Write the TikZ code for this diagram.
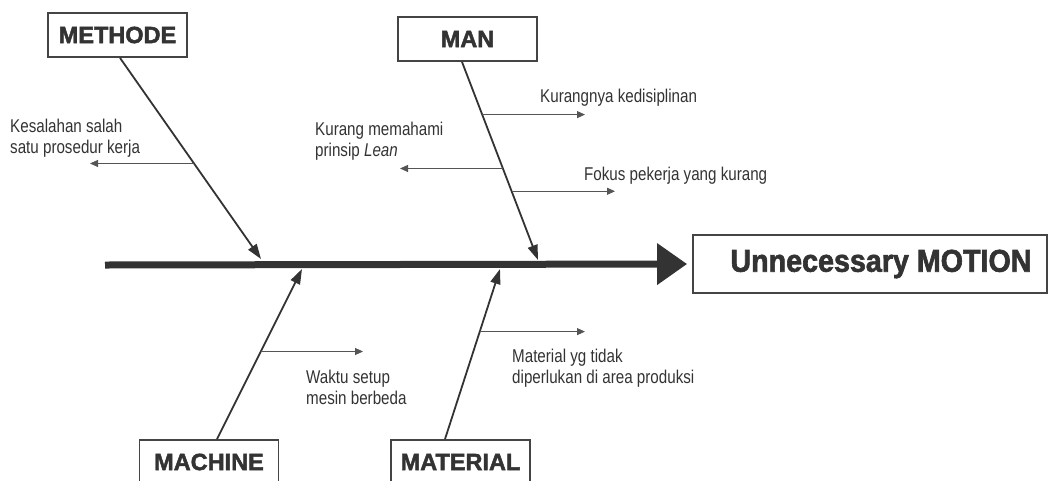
\documentclass[tikz,border=0pt]{standalone}
\usepackage{fontspec}
\usetikzlibrary{arrows.meta}
\newfontfamily\labfont[FakeStretch=0.82]{Liberation Sans}
\newfontfamily\catfont[FakeBold=2]{Liberation Sans}
\newfontfamily\effectfont[FakeStretch=0.91,FakeBold=2]{Liberation Sans}
\definecolor{ink}{HTML}{333333}
\definecolor{boxline}{HTML}{444444}
\definecolor{twig}{HTML}{555555}
\tikzset{
  catbox/.style={draw=boxline, line width=1.8pt, minimum width=139pt, minimum height=44pt,
    inner sep=0pt, text=ink, font=\catfont\fontsize{23.5}{26}\selectfont\bfseries},
  effectbox/.style={draw=boxline, line width=1.8pt, minimum width=354pt, minimum height=58pt, inner sep=0pt},
  effecttext/.style={text=ink, inner sep=0pt, font=\effectfont\fontsize{31.5}{34}\selectfont\bfseries},
  bone/.style={draw=ink, line width=1.8pt, -{Triangle[length=15pt,width=10pt]}},
  spine/.style={draw=ink, line width=7pt, -{Triangle[length=30pt,width=40pt]}},
  twigarrow/.style={draw=twig, line width=0.9pt, -{Triangle[length=8pt,width=7pt]}},
  cause/.style={text=ink, inner sep=0pt, align=left, font=\labfont\fontsize{18.5}{20.5}\selectfont},
}
\begin{document}
\begin{tikzpicture}[x=1pt,y=-1pt]
\useasboundingbox (0,0) rectangle (1048,480);

% effect box and the main spine
\node[effectbox] (effect) at (870,264) {};
\node[effecttext] (effectlabel) at (881,264) {Unnecessary MOTION};
\coordinate (tail) at (105,265);
\draw[spine] (tail) -- ([xshift=-5pt]effect.west);

% category boxes
\node[catbox] (methode) at (117.5,35) {METHODE};
\node[catbox] (man) at (467.5,39) {MAN};
\node[catbox] (machine) at (209,462) {MACHINE};
\node[catbox] (material) at (460.5,462) {MATERIAL};

% bone tips on the spine
\coordinate (methodetip) at (261,259);
\coordinate (mantip) at (538,260);
\coordinate (machinetip) at (302,269);
\coordinate (materialtip) at (500,269);

% bones, with the points where the cause arrows leave them
\draw[bone] ([xshift=2.5pt]methode.south) -- coordinate[pos=0.525] (me1) (methodetip);
\draw[bone] ([xshift=-5.5pt]man.south) -- coordinate[pos=0.266] (ma1) coordinate[pos=0.538] (ma2) coordinate[pos=0.653] (ma3) (mantip);
\draw[bone] ([xshift=8pt]machine.north) -- coordinate[pos=0.515] (mc1) (machinetip);
\draw[bone] ([xshift=-15.5pt]material.north) -- coordinate[pos=0.632] (mt1) (materialtip);

% free ends of the cause arrows
\coordinate (me1end) at (90,0);
\coordinate (ma1end) at (585,0);
\coordinate (ma2end) at (400,0);
\coordinate (ma3end) at (615,0);
\coordinate (mc1end) at (363,0);
\coordinate (mt1end) at (585,0);

\draw[twigarrow] (me1) -- (me1end |- me1);
\draw[twigarrow] (ma1) -- (ma1end |- ma1);
\draw[twigarrow] (ma2) -- (ma2end |- ma2);
\draw[twigarrow] (ma3) -- (ma3end |- ma3);
\draw[twigarrow] (mc1) -- (mc1end |- mc1);
\draw[twigarrow] (mt1) -- (mt1end |- mt1);

% cause texts (base anchor sits on the last line)
\node[cause, anchor=base west] (c1) at (10,153) {Kesalahan salah\\satu prosedur kerja};
\node[cause, anchor=base west] (c2) at (540,102) {Kurangnya kedisiplinan};
\node[cause, anchor=base west] (c3) at (315,156) {Kurang memahami\\prinsip \textit{Lean}};
\node[cause, anchor=base west] (c4) at (584,180) {Fokus pekerja yang kurang};
\node[cause, anchor=base west] (c5) at (306,404) {Waktu setup\\mesin berbeda};
\node[cause, anchor=base west] (c6) at (512,383) {Material yg tidak\\diperlukan di area produksi};
\end{tikzpicture}
\end{document}
